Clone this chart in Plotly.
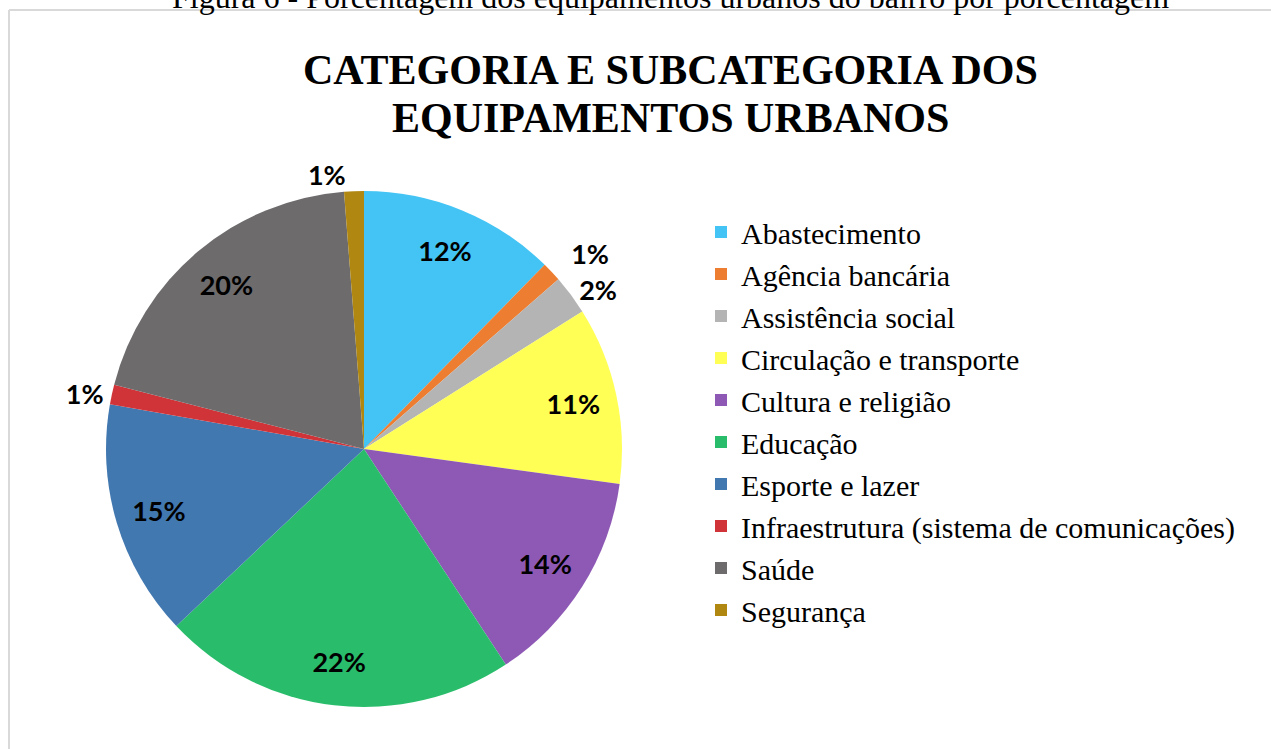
import plotly.graph_objects as go

categories = [
    "Abastecimento",
    "Agência bancária",
    "Assistência social",
    "Circulação e transporte",
    "Cultura e religião",
    "Educação",
    "Esporte e lazer",
    "Infraestrutura (sistema de comunicações)",
    "Saúde",
    "Segurança",
]
counts = [10, 1, 2, 9, 11, 18, 12, 1, 16, 1]
colors = ["#43C4F4", "#ED7D31", "#B4B4B4", "#FFFF55", "#8E59B5",
          "#29BD6B", "#4278B0", "#D13438", "#6D6B6C", "#B08710"]
# where each slice's label goes: "in" = inside near the rim,
# "out" = outside (main trace), "out2" = outside, a little further out
label_mode = ["in", "out2", "out", "in", "in", "in", "in", "out", "in", "out"]

W, H = 1271, 749

def px_x(x):
    return x / W

def px_y(y):
    return 1 - y / H

# pie centre and radius in page pixels
CX, CY, R = 364, 449, 258

def domain(scale=1.0):
    r = R * scale
    return dict(x=[px_x(CX - r), px_x(CX + r)], y=[px_y(CY + r), px_y(CY - r)])

label_font = dict(family="Lato", size=27, color="#000000", weight="bold")
pct = "%{percent:.0%}"
clear = ["rgba(0,0,0,0)"] * len(categories)

# main pie: colours, legend and the outside labels of the small slices
fig = go.Figure(go.Pie(
    labels=categories,
    values=counts,
    sort=False,
    direction="clockwise",
    rotation=0,
    marker=dict(colors=colors, line=dict(width=0)),
    texttemplate=[pct if m == "out" else "" for m in label_mode],
    textposition=["outside" if m == "out" else "inside" for m in label_mode],
    textfont=label_font,
    outsidetextfont=label_font,
    insidetextfont=label_font,
    domain=domain(),
    hoverinfo="label+percent",
))

# transparent ring on top of it: carries the inside labels near the rim
fig.add_trace(go.Pie(
    labels=categories,
    values=counts,
    sort=False,
    direction="clockwise",
    rotation=0,
    hole=0.66,
    marker=dict(colors=clear, line=dict(width=0)),
    texttemplate=[pct if m == "in" else "" for m in label_mode],
    textposition="inside",
    insidetextorientation="horizontal",
    insidetextfont=label_font,
    textfont=label_font,
    domain=domain(),
    showlegend=False,
    hoverinfo="skip",
))

# transparent, slightly larger pie: outside label kept clear of its neighbour
fig.add_trace(go.Pie(
    labels=categories,
    values=counts,
    sort=False,
    direction="clockwise",
    rotation=0,
    marker=dict(colors=clear, line=dict(width=0)),
    texttemplate=[pct if m == "out2" else "" for m in label_mode],
    textposition=["outside" if m == "out2" else "inside" for m in label_mode],
    outsidetextfont=label_font,
    textfont=label_font,
    domain=domain(1.06),
    showlegend=False,
    hoverinfo="skip",
))

fig.update_layout(
    width=W, height=H,
    margin=dict(l=0, r=0, t=0, b=0),
    paper_bgcolor="white",
    plot_bgcolor="white",
    showlegend=True,
    legend=dict(
        x=px_x(701), y=px_y(206), xanchor="left", yanchor="top",
        font=dict(family="Liberation Serif", size=30, color="#000000"),
        bgcolor="rgba(0,0,0,0)",
        traceorder="normal",
    ),
    annotations=[
        dict(text="Figura 6 - Porcentagem dos equipamentos urbanos do bairro por porcentagem",
             x=px_x(670), y=px_y(-3), xref="paper", yref="paper",
             xanchor="center", yanchor="middle", showarrow=False,
             font=dict(family="Liberation Serif", size=32, color="#000000")),
        dict(text="<b>CATEGORIA E SUBCATEGORIA DOS</b>",
             x=px_x(670), y=px_y(70), xref="paper", yref="paper",
             xanchor="center", yanchor="middle", showarrow=False,
             font=dict(family="Liberation Serif", size=42, color="#000000")),
        dict(text="<b>EQUIPAMENTOS URBANOS</b>",
             x=px_x(670), y=px_y(118), xref="paper", yref="paper",
             xanchor="center", yanchor="middle", showarrow=False,
             font=dict(family="Liberation Serif", size=42, color="#000000")),
    ],
    shapes=[
        dict(type="line", xref="paper", yref="paper",
             x0=px_x(9), x1=1, y0=px_y(10), y1=px_y(10),
             line=dict(color="#D9D9D9", width=2)),
        dict(type="line", xref="paper", yref="paper",
             x0=px_x(9), x1=px_x(9), y0=px_y(10), y1=0,
             line=dict(color="#D9D9D9", width=2)),
    ],
)

fig.write_html("out.html")
